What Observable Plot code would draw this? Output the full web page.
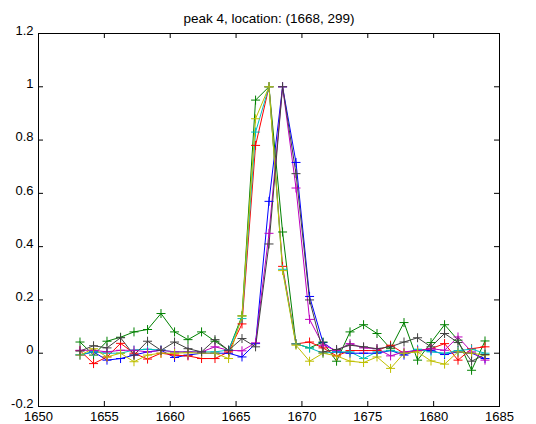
<!DOCTYPE html>
<html>
<head>
<meta charset="utf-8">
<script src="https://cdn.jsdelivr.net/npm/d3@7"></script>
<script src="https://cdn.jsdelivr.net/npm/@observablehq/plot@0.6"></script>
<style>
  html, body { margin: 0; padding: 0; background: #fff; }
  svg { overflow: visible; }
</style>
</head>
<body>
<div id="chart"></div>
<script>
const titleText = "peak 4, location: (1668, 299)";

const xValues = [1653.15, 1654.18, 1655.2, 1656.23, 1657.25, 1658.28, 1659.3, 1660.33, 1661.35, 1662.38,
  1663.4, 1664.43, 1665.45, 1666.48, 1667.5, 1668.53, 1669.55, 1670.58, 1671.6, 1672.63,
  1673.65, 1674.68, 1675.7, 1676.73, 1677.75, 1678.78, 1679.8, 1680.83, 1681.85, 1682.88, 1683.9];

const blue = [-0.007, 0.005, -0.026, -0.02, -0.007, 0.005, 0.011, -0.016, -0.007, 0.0, 0.0, 0.0, -0.014, 0.036, 0.57, 1.0, 0.716, 0.213, 0.04, 0.005, 0.0, 0.0, 0.0, 0.01, -0.007, 0.011, 0.011, -0.005, 0.005, 0.0, -0.02];
const green = [0.042, -0.007, 0.045, 0.06, 0.08, 0.089, 0.149, 0.08, 0.051, 0.08, 0.045, 0.011, 0.14, 0.95, 1.0, 0.455, 0.035, 0.02, 0.042, -0.03, 0.08, 0.107, 0.074, 0.017, 0.115, -0.026, 0.04, 0.107, 0.049, -0.064, 0.046];
const red = [0.01, -0.039, -0.014, 0.037, 0.0, -0.022, 0.0, -0.007, -0.01, -0.02, -0.02, 0.005, 0.11, 0.78, 1.0, 0.326, 0.035, 0.042, 0.02, -0.01, 0.01, 0.01, 0.01, 0.03, 0.0, 0.01, 0.017, 0.036, -0.026, 0.017, 0.024];
const cyan = [-0.005, 0.005, 0.0, 0.0, 0.012, 0.015, 0.012, 0.005, 0.005, 0.005, 0.005, 0.012, 0.13, 0.83, 1.0, 0.315, 0.035, 0.02, 0.0, 0.005, 0.005, -0.02, 0.005, 0.01, 0.0, 0.015, 0.005, 0.0, 0.01, 0.015, 0.0];
const magenta = [0.011, 0.011, 0.005, 0.011, 0.011, 0.005, 0.011, 0.005, 0.005, 0.005, 0.024, 0.011, 0.009, 0.039, 0.45, 1.0, 0.62, 0.127, 0.03, 0.01, 0.036, 0.02, 0.017, -0.01, 0.005, 0.01, 0.017, 0.011, 0.061, 0.005, -0.026];
const yellow = [-0.007, 0.017, -0.014, 0.0, -0.032, -0.007, 0.0, 0.0, 0.002, 0.0, 0.0, -0.02, 0.14, 0.88, 1.0, 0.31, 0.03, -0.03, 0.0, -0.01, -0.03, -0.035, -0.014, -0.057, 0.0, 0.005, -0.029, -0.041, 0.005, 0.0, -0.007];
const gray = [0.008, 0.028, 0.02, 0.058, -0.007, 0.045, 0.011, 0.042, 0.017, 0.005, 0.051, 0.011, 0.055, 0.024, 0.41, 1.0, 0.674, 0.2, 0.005, 0.014, 0.03, 0.024, 0.017, 0.024, 0.042, 0.058, 0.024, 0.074, 0.04, -0.03, -0.005];

const seriesNames = ["s1", "s2", "s3", "s4", "s5", "s6", "s7"];
const seriesValues = [blue, green, red, cyan, magenta, yellow, gray];
const seriesColors = ["#0000ff", "#008000", "#ff0000", "#00bfbf", "#bf00bf", "#bfbf00", "#404040"];

const xTicks = [1650, 1655, 1660, 1665, 1670, 1675, 1680, 1685];
const yTicks = [-0.2, 0, 0.2, 0.4, 0.6, 0.8, 1, 1.2];

const rows = [];
seriesNames.forEach((name, s) => {
  seriesValues[s].forEach((v, i) => rows.push({series: name, x: xValues[i], y: v}));
});

// MATLAB-like "+" marker (stroked cross)
const plusSymbol = {
  draw(context, size) {
    const r = Math.sqrt(size / Math.PI);
    context.moveTo(-r, 0); context.lineTo(r, 0);
    context.moveTo(0, -r); context.lineTo(0, r);
  }
};

const W = 536, H = 424;
const mL = 38, mR = 37, mT = 33, mB = 18;
const frameW = W - mL - mR, frameH = H - mT - mB;
const fmtY = d => String(+d.toFixed(1));
const font = "Liberation Sans, Arial, Helvetica, sans-serif";

const chart = Plot.plot({
  width: W,
  height: H,
  marginLeft: mL,
  marginRight: mR,
  marginTop: mT,
  marginBottom: mB,
  style: {fontFamily: font, fontSize: "13px", color: "#000", background: "#fff"},
  x: {domain: [1650, 1685]},
  y: {domain: [-0.2, 1.2]},
  color: {type: "ordinal", domain: seriesNames, range: seriesColors},
  marks: [
    Plot.line(rows, {x: "x", y: "y", z: "series", stroke: "series", strokeWidth: 1}),
    Plot.dot(rows, {x: "x", y: "y", stroke: "series", symbol: plusSymbol, r: 4.5, strokeWidth: 1, fill: "none"}),
    // inward ticks on all four sides
    Plot.ruleX(xTicks, {x: d => d, insetTop: frameH - 5, stroke: "#000"}),
    Plot.ruleX(xTicks, {x: d => d, insetBottom: frameH - 5, stroke: "#000"}),
    Plot.ruleY(yTicks, {y: d => d, insetRight: frameW - 5, stroke: "#000"}),
    Plot.ruleY(yTicks, {y: d => d, insetLeft: frameW - 5, stroke: "#000"}),
    Plot.frame({stroke: "#000", strokeWidth: 1}),
    Plot.axisX(xTicks, {anchor: "bottom", tickSize: 0, tickPadding: 5, tickFormat: d => String(d), fontSize: 13, label: null}),
    Plot.axisY(yTicks, {anchor: "left", tickSize: 0, tickPadding: 5, tickFormat: fmtY, fontSize: 13, dy: -3, label: null}),
    Plot.text([titleText], {frameAnchor: "top", dy: -20, text: d => d, fontSize: 13.5, fill: "#000"})
  ]
});

document.getElementById("chart").appendChild(chart);
</script>
</body>
</html>
